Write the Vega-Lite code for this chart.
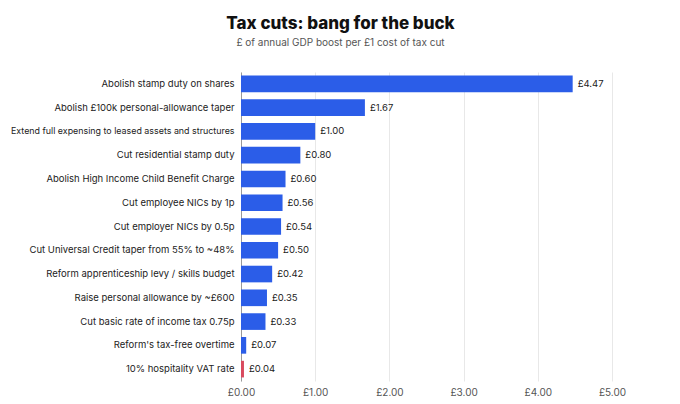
{
  "$schema": "https://vega.github.io/schema/vega-lite/v6.json",
  "autosize": {"type": "none"},
  "width": 371,
  "height": 309,
  "padding": {"left": 241, "top": 72, "right": 68, "bottom": 23},
  "background": "white",
  "title": {
    "text": "Tax cuts: bang for the buck",
    "subtitle": "£ of annual GDP boost per £1 cost of tax cut",
    "anchor": "middle",
    "dx": -86,
    "offset": 23,
    "font": "Inter",
    "fontSize": 17,
    "fontWeight": 800,
    "color": "#111111",
    "subtitleFont": "Inter",
    "subtitleFontSize": 10,
    "subtitleColor": "#555555",
    "subtitlePadding": 5
  },
  "data": {
    "values": [
      {"policy": "Abolish stamp duty on shares", "value": 4.47, "group": "main"},
      {"policy": "Abolish £100k personal-allowance taper", "value": 1.67, "group": "main"},
      {"policy": "Extend full expensing to leased assets and structures", "value": 1.00, "group": "main"},
      {"policy": "Cut residential stamp duty", "value": 0.80, "group": "main"},
      {"policy": "Abolish High Income Child Benefit Charge", "value": 0.60, "group": "main"},
      {"policy": "Cut employee NICs by 1p", "value": 0.56, "group": "main"},
      {"policy": "Cut employer NICs by 0.5p", "value": 0.54, "group": "main"},
      {"policy": "Cut Universal Credit taper from 55% to ~48%", "value": 0.50, "group": "main"},
      {"policy": "Reform apprenticeship levy / skills budget", "value": 0.42, "group": "main"},
      {"policy": "Raise personal allowance by ~£600", "value": 0.35, "group": "main"},
      {"policy": "Cut basic rate of income tax 0.75p", "value": 0.33, "group": "main"},
      {"policy": "Reform's tax-free overtime", "value": 0.07, "group": "main"},
      {"policy": "10% hospitality VAT rate", "value": 0.04, "group": "hospitality"}
    ]
  },
  "encoding": {
    "y": {
      "field": "policy",
      "type": "nominal",
      "sort": null,
      "title": null,
      "scale": {"paddingInner": 0.3, "paddingOuter": 0.15},
      "axis": {
        "ticks": false,
        "labelPadding": 7,
        "labelFont": "Inter",
        "labelFontSize": {"condition": {"test": "length(datum.label) > 45", "value": 8.9}, "value": 9.5},
        "labelColor": "#222222",
        "labelLimit": 400,
        "domainColor": "#999999",
        "domainWidth": 1
      }
    },
    "x": {
      "field": "value",
      "type": "quantitative",
      "title": null,
      "scale": {"domain": [0, 5], "nice": false},
      "axis": {
        "values": [0, 1, 2, 3, 4, 5],
        "format": ".2f",
        "labelExpr": "'£' + datum.label",
        "labelFlush": false,
        "domain": false,
        "ticks": false,
        "labelPadding": 6,
        "labelFont": "Inter",
        "labelFontSize": 10,
        "labelColor": "#555555",
        "gridColor": "#e8e8e8",
        "gridWidth": 1
      }
    }
  },
  "layer": [
    {
      "mark": {"type": "bar"},
      "encoding": {
        "color": {
          "field": "group",
          "type": "nominal",
          "scale": {"domain": ["main", "hospitality"], "range": ["#2B5DE8", "#D94A5E"]},
          "legend": null
        }
      }
    },
    {
      "mark": {"type": "text", "align": "left", "baseline": "middle", "dx": 5, "font": "Inter", "fontSize": 9.5, "color": "#222222"},
      "encoding": {
        "text": {"field": "value", "type": "quantitative", "format": "$.2f"}
      }
    }
  ],
  "config": {
    "view": {"stroke": null},
    "locale": {"number": {"decimal": ".", "thousands": ",", "grouping": [3], "currency": ["£", ""]}}
  }
}
